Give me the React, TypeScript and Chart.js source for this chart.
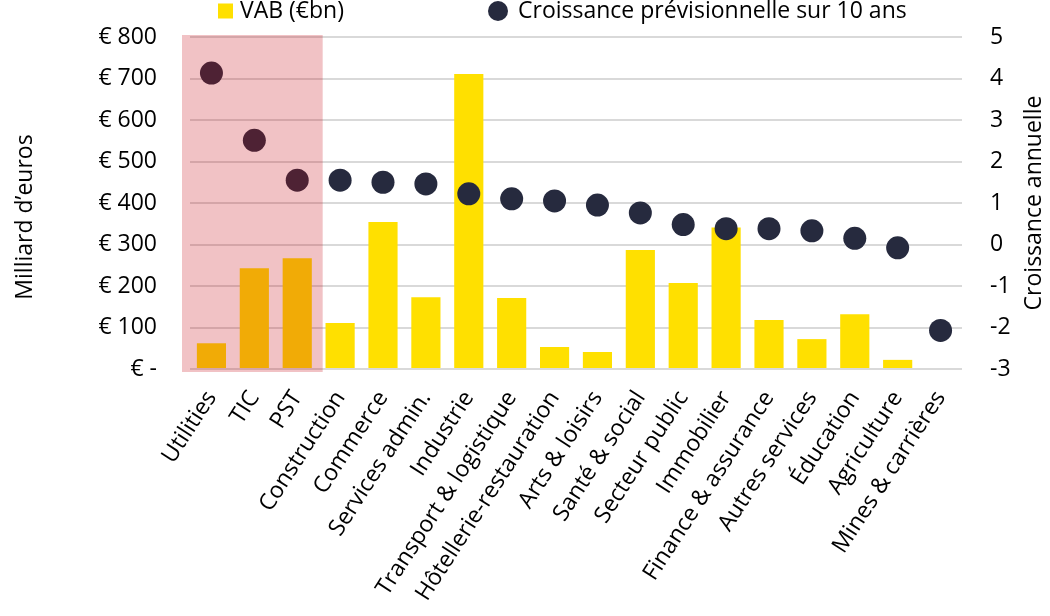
import React, { useEffect, useRef } from "react";
import { Chart, registerables } from "chart.js";

Chart.register(...registerables);

const categories = [
  "Utilities", "TIC", "PST", "Construction", "Commerce", "Services admin.",
  "Industrie", "Transport & logistique", "Hôtellerie-restauration", "Arts & loisirs",
  "Santé & social", "Secteur public", "Immobilier", "Finance & assurance",
  "Autres services", "Éducation", "Agriculture", "Mines & carrières",
];
const vabValues = [62, 243, 267, 111, 354, 173, 711, 171, 53, 41, 287, 207, 341, 118, 72, 132, 22, 0];
const growthValues = [4.13, 2.51, 1.55, 1.55, 1.5, 1.46, 1.22, 1.1, 1.05, 0.95, 0.76, 0.48, 0.38, 0.38, 0.33, 0.15, -0.08, -2.07];
const highlighted = ["Utilities", "TIC", "PST"];
const vabLabel = "VAB (€bn)";
const growthLabel = "Croissance prévisionnelle sur 10 ans";
const leftTitle = "Milliard d’euros";
const rightTitle = "Croissance annuelle";

const FONT = "'Open Sans', sans-serif";
const YELLOW = "#FFE000";
const NAVY = "#262A3E";

const overlayPlugin = {
  id: "highlightOverlay",
  afterDatasetsDraw(chart: any) {
    const x = chart.scales.x;
    const area = chart.chartArea;
    const idx = highlighted.map((c) => categories.indexOf(c));
    const step = x.getPixelForValue(1) - x.getPixelForValue(0);
    const left = x.getPixelForValue(Math.min(...idx)) - step / 2 - 8;
    const right = x.getPixelForValue(Math.max(...idx)) + step / 2 + 4;
    const ctx = chart.ctx;
    ctx.save();
    ctx.fillStyle = "rgba(200,10,22,0.25)";
    ctx.fillRect(left, area.top - 2, right - left, area.bottom - area.top + 5);
    ctx.restore();
  },
};

const legendPlugin = {
  id: "customLegend",
  afterDraw(chart: any) {
    const ctx = chart.ctx;
    const area = chart.chartArea;
    ctx.save();
    ctx.font = `23px ${FONT}`;
    ctx.textBaseline = "middle";
    let xPos = 218;
    const yMid = 11;
    ctx.fillStyle = YELLOW;
    ctx.fillRect(xPos, yMid - 7.5, 15, 15);
    xPos += 22;
    ctx.fillStyle = "#000";
    ctx.textAlign = "left";
    ctx.fillText(vabLabel, xPos, yMid);
    xPos = 498;
    ctx.fillStyle = NAVY;
    ctx.beginPath();
    ctx.arc(xPos, yMid, 10, 0, Math.PI * 2);
    ctx.fill();
    ctx.fillStyle = "#000";
    ctx.fillText(growthLabel, xPos + 20, yMid);

    const midY = (area.top + area.bottom) / 2;
    // left axis title
    const y = chart.scales.y;
    ctx.save();
    ctx.translate(y.left + 25, midY + 14);
    ctx.rotate(-Math.PI / 2);
    ctx.textAlign = "center";
    ctx.fillText(leftTitle, 0, 0);
    ctx.restore();

    // right axis title, reading bottom-to-top
    const y1 = chart.scales.y1;
    ctx.translate(y1.right - 16, midY);
    ctx.rotate(-Math.PI / 2);
    ctx.textAlign = "center";
    ctx.fillText(rightTitle, 0, 0);
    ctx.restore();
  },
};

export default function App() {
  const ref = useRef<HTMLCanvasElement>(null);
  useEffect(() => {
    if (!ref.current) return;
    const chart = new Chart(ref.current, {
      type: "bar",
      data: {
        labels: categories,
        datasets: [
          {
            type: "line",
            label: growthLabel,
            data: growthValues,
            yAxisID: "y1",
            showLine: false,
            pointRadius: 11.5,
            pointHoverRadius: 11.5,
            pointBackgroundColor: NAVY,
            pointBorderWidth: 0,
            borderColor: NAVY,
            backgroundColor: NAVY,
            order: 1,
          } as any,
          {
            type: "bar",
            label: vabLabel,
            data: vabValues,
            yAxisID: "y",
            backgroundColor: YELLOW,
            barPercentage: 0.68,
            categoryPercentage: 1,
            order: 2,
          },
        ],
      },
      plugins: [overlayPlugin, legendPlugin],
      options: {
        animation: false,
        responsive: true,
        maintainAspectRatio: false,
        layout: { padding: { top: 37, left: 0, right: 0, bottom: 0 } },
        plugins: { legend: { display: false }, tooltip: { enabled: false } },
        scales: {
          x: {
            grid: { display: false },
            border: { display: false },
            ticks: {
              autoSkip: false,
              maxRotation: 57,
              minRotation: 57,
              padding: 9,
              color: "#000",
              font: { family: FONT, size: 23 },
            },
            afterFit(scale: any) {
              scale.height = 247;
            },
          },
          y: {
            position: "left",
            min: 0,
            max: 800,
            border: { display: false },
            grid: { color: "#D9D9D9", lineWidth: 2, drawTicks: false },
            ticks: {
              stepSize: 100,
              padding: 33,
              color: "#000",
              font: { family: FONT, size: 23 },
              callback: (v: any) => (Number(v) === 0 ? "€ -" : "€ " + v),
            },
            afterFit(scale: any) {
              scale.width = 190;
              scale.paddingTop = 10;
              scale.paddingBottom = 10;
            },
          },
          y1: {
            position: "right",
            min: -3,
            max: 5,
            border: { display: false },
            grid: { display: false, drawTicks: false },
            ticks: {
              stepSize: 1,
              padding: 28,
              color: "#000",
              font: { family: FONT, size: 23 },
            },
            afterFit(scale: any) {
              scale.width = 88;
              scale.paddingTop = 10;
              scale.paddingBottom = 10;
            },
          },
        },
      },
    });
    return () => chart.destroy();
  }, []);
  return (
    <div style={{ position: "fixed", left: 0, top: 0, width: 1050, height: 616, background: "#fff" }}>
      <canvas ref={ref} />
    </div>
  );
}
